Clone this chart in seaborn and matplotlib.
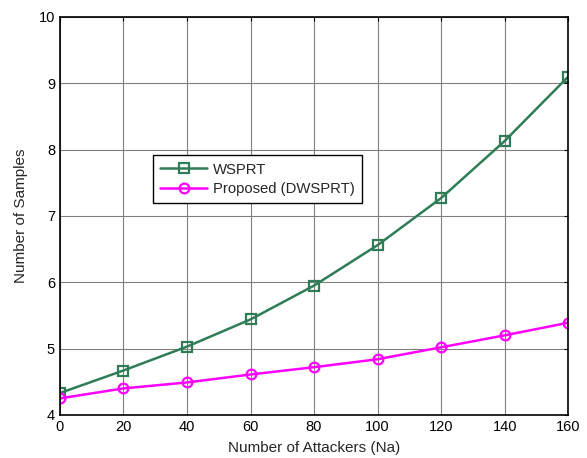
import matplotlib
matplotlib.use("Agg")
import matplotlib.pyplot as plt
import seaborn as sns
import pandas as pd

attackers = [0, 20, 40, 60, 80, 100, 120, 140, 160]
wsprt = [4.33, 4.67, 5.03, 5.44, 5.95, 6.56, 7.27, 8.13, 9.10]
proposed = [4.25, 4.40, 4.49, 4.61, 4.72, 4.84, 5.02, 5.20, 5.39]
series_names = ["WSPRT", "Proposed (DWSPRT)"]

sns.set_style("white")
plt.rcParams['font.family'] = ['Liberation Sans', 'DejaVu Sans']
plt.rcParams['font.size'] = 10

fig = plt.figure(figsize=(5.87, 4.58), dpi=100)
ax = fig.add_axes([0.102, 0.094, 0.866, 0.869])

df = pd.DataFrame({"x": attackers * 2,
                   "y": wsprt + proposed,
                   "s": [series_names[0]] * len(attackers) + [series_names[1]] * len(attackers)})

sns.lineplot(data=df[df.s == series_names[0]], x="x", y="y", ax=ax, color="#2E7D57",
             marker="s", markersize=7, markerfacecolor="none", markeredgecolor="#2E7D57",
             markeredgewidth=1.6, linewidth=1.8, label=series_names[0])
sns.lineplot(data=df[df.s == series_names[1]], x="x", y="y", ax=ax, color="#FF00FF",
             marker="o", markersize=7, markerfacecolor="none", markeredgecolor="#FF00FF",
             markeredgewidth=1.6, linewidth=1.8, label=series_names[1])

ax.set_xlim(0, 160)
ax.set_ylim(4, 10)
ax.set_xticks(attackers)
ax.set_yticks([4, 5, 6, 7, 8, 9, 10])
ax.grid(True, color="#808080", linewidth=0.8, linestyle="-")
ax.tick_params(direction="in", length=3, colors="black", labelsize=10.5, top=True, right=True,
               labeltop=False, labelright=False)
for sp in ax.spines.values():
    sp.set_color("black")
    sp.set_linewidth(1.2)
ax.set_xlabel("Number of Attackers (Na)", fontsize=11, labelpad=5)
ax.set_ylabel("Number of Samples", fontsize=11, labelpad=8)

leg = ax.legend(loc="upper left", bbox_to_anchor=(0.183, 0.653), borderaxespad=0,
                fancybox=False, framealpha=1, edgecolor="black", fontsize=10.75,
                handlelength=3.1, handletextpad=0.4, borderpad=0.5, labelspacing=0.35)
leg.get_frame().set_linewidth(1.0)

fig.savefig("out.png", dpi=100)
